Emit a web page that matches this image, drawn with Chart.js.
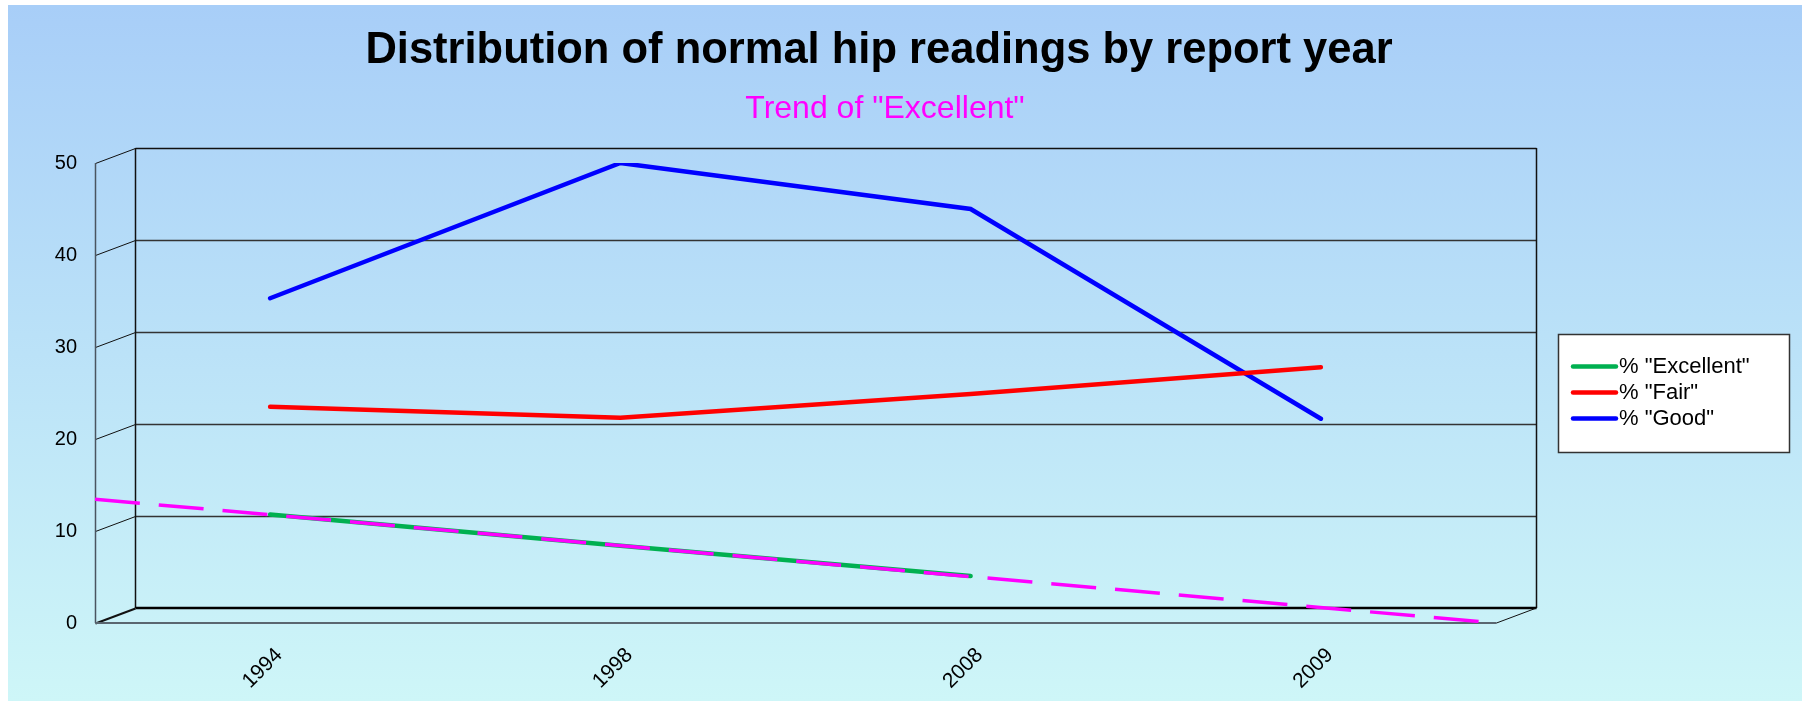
<!DOCTYPE html>
<html>
<head>
<meta charset="utf-8">
<title>Distribution of normal hip readings by report year</title>
<script src="https://cdn.jsdelivr.net/npm/chart.js@4/dist/chart.umd.min.js"></script>
<style>
  html, body { margin: 0; padding: 0; background: #fff; }
  #wrap { width: 1808px; height: 705px; }
</style>
</head>
<body>
<div id="wrap"><canvas id="hip-chart" width="1808" height="705"></canvas></div>
<script>
const categories = ['1994', '1998', '2008', '2009'];
const excellent = [11.8, 8.4, 5.1, null];
const fair = [23.5, 22.3, 24.9, 27.8];
const good = [35.3, 50.0, 45.0, 22.2];
// linear trend of "Excellent", read at both ends of the plot
const trendX = [0.5, 4.5];
const trendY = [13.45, 0];
const yTicks = [0, 10, 20, 30, 40, 50];

const FONT = "'Liberation Sans', Arial, sans-serif";
const DEPTH_X = 40;   // offset of the back wall
const DEPTH_Y = -15;

const toPoints = (xs, vals) => vals.map((v, i) => ({ x: xs[i], y: v }));
const catX = categories.map((c, i) => i + 1);

const strokeLine = (ctx, x1, y1, x2, y2, color, width) => {
    ctx.beginPath();
    ctx.strokeStyle = color;
    ctx.lineWidth = width;
    ctx.moveTo(x1, y1);
    ctx.lineTo(x2, y2);
    ctx.stroke();
};

// background, titles
const backdropPlugin = {
    id: 'backdrop',
    beforeDraw(chart) {
        const { ctx, width, height } = chart;
        ctx.save();
        ctx.fillStyle = '#ffffff';
        ctx.fillRect(0, 0, width, height);
        const grad = ctx.createLinearGradient(0, 5, 0, 701);
        grad.addColorStop(0, '#a8cef8');
        grad.addColorStop(1, '#cef6f8');
        ctx.fillStyle = grad;
        ctx.fillRect(8, 5, 1794, 696);

        ctx.textAlign = 'center';
        ctx.textBaseline = 'alphabetic';
        ctx.fillStyle = '#000000';
        ctx.font = `bold 43.5px ${FONT}`;
        ctx.fillText('Distribution of normal hip readings by report year', 879, 63);
        ctx.fillStyle = '#ff00ff';
        ctx.font = `32px ${FONT}`;
        ctx.fillText('Trend of "Excellent"', 885, 118);
        ctx.restore();
    }
};

// pseudo 3D frame: back wall with gridlines, floor and depth ticks
const framePlugin = {
    id: 'frame',
    beforeDatasetsDraw(chart) {
        const { ctx, chartArea: a, scales: { y } } = chart;
        const L = Math.round(a.left) + 0.5, R = Math.round(a.right) + 0.5;
        const T = y.getPixelForValue(50), B = y.getPixelForValue(0);
        ctx.save();
        yTicks.forEach(v => {
            const py = Math.round(y.getPixelForValue(v)) + 0.5;
            strokeLine(ctx, L, py, L + DEPTH_X, py + DEPTH_Y, '#111', v === 0 ? 2 : 1);
            if (v > 0) {
                strokeLine(ctx, L + DEPTH_X, py + DEPTH_Y, R + DEPTH_X, py + DEPTH_Y, v === 50 ? '#111' : '#333', 1.3);
            }
        });
        strokeLine(ctx, L + DEPTH_X, T + DEPTH_Y, L + DEPTH_X, B + DEPTH_Y, '#111', 1.5);
        strokeLine(ctx, R + DEPTH_X, T + DEPTH_Y, R + DEPTH_X, B + DEPTH_Y, '#111', 1.5);
        strokeLine(ctx, L + DEPTH_X, B + DEPTH_Y, R + DEPTH_X, B + DEPTH_Y, '#000', 2.5);
        strokeLine(ctx, L, T, L, B, '#4a5560', 1.5);
        strokeLine(ctx, L, B, R, B, '#5a6670', 2);
        strokeLine(ctx, R, B, R + DEPTH_X, B + DEPTH_Y, '#111', 1);
        ctx.restore();
    }
};

// legend box on the right
const legendPlugin = {
    id: 'boxLegend',
    afterDraw(chart) {
        const { ctx } = chart;
        const items = chart.data.datasets.filter(d => !d.isTrend);
        ctx.save();
        ctx.fillStyle = '#ffffff';
        ctx.fillRect(1558, 334, 232, 119);
        ctx.strokeStyle = '#333';
        ctx.lineWidth = 1.5;
        ctx.strokeRect(1558.5, 334.5, 231, 118);
        ctx.font = `22px ${FONT}`;
        ctx.textAlign = 'left';
        ctx.textBaseline = 'middle';
        items.forEach((d, i) => {
            const ry = 366.5 + i * 26;
            ctx.lineCap = 'round';
            strokeLine(ctx, 1573, ry, 1616, ry, d.borderColor, 4.5);
            ctx.fillStyle = '#000';
            ctx.fillText(d.label, 1619, ry);
        });
        ctx.restore();
    }
};

const seriesStyle = (color) => ({
    borderColor: color,
    backgroundColor: color,
    borderWidth: 4.5,
    borderCapStyle: 'round',
    pointRadius: 0,
    tension: 0,
    fill: false
});

new Chart(document.getElementById('hip-chart').getContext('2d'), {
    type: 'line',
    data: {
        datasets: [
            {
                label: 'Trend of "Excellent"',
                isTrend: true,
                data: toPoints(trendX, trendY),
                borderColor: '#ff00ff',
                borderWidth: 3.5,
                borderDash: [45, 19],
                pointRadius: 0,
                fill: false
            },
            { label: '% "Excellent"', data: toPoints(catX, excellent), ...seriesStyle('#00b050') },
            { label: '% "Fair"', data: toPoints(catX, fair), ...seriesStyle('#ff0000') },
            { label: '% "Good"', data: toPoints(catX, good), ...seriesStyle('#0000ff') }
        ]
    },
    options: {
        responsive: false,
        animation: false,
        devicePixelRatio: 1,
        layout: { padding: { top: 163, right: 312, bottom: 0, left: 0 } },
        plugins: {
            legend: { display: false },
            title: { display: false },
            tooltip: { enabled: false }
        },
        scales: {
            x: {
                type: 'linear',
                min: 0.5,
                max: 4.5,
                grid: { display: false, drawTicks: false },
                border: { display: false },
                afterBuildTicks: (scale) => {
                    scale.ticks = catX.map(v => ({ value: v }));
                },
                afterFit: (scale) => { scale.height = 82; },
                ticks: {
                    autoSkip: false,
                    minRotation: 45,
                    maxRotation: 45,
                    padding: 20,
                    labelOffset: 9,
                    color: '#000',
                    font: { family: FONT, size: 21 },
                    callback: (value) => categories[value - 1]
                }
            },
            y: {
                min: 0,
                max: 50,
                grid: { display: false, drawTicks: false },
                border: { display: false },
                afterFit: (scale) => { scale.width = 95; },
                ticks: {
                    stepSize: 10,
                    padding: 18,
                    color: '#000',
                    font: { family: FONT, size: 20 }
                }
            }
        }
    },
    plugins: [backdropPlugin, framePlugin, legendPlugin]
});
</script>
</body>
</html>
